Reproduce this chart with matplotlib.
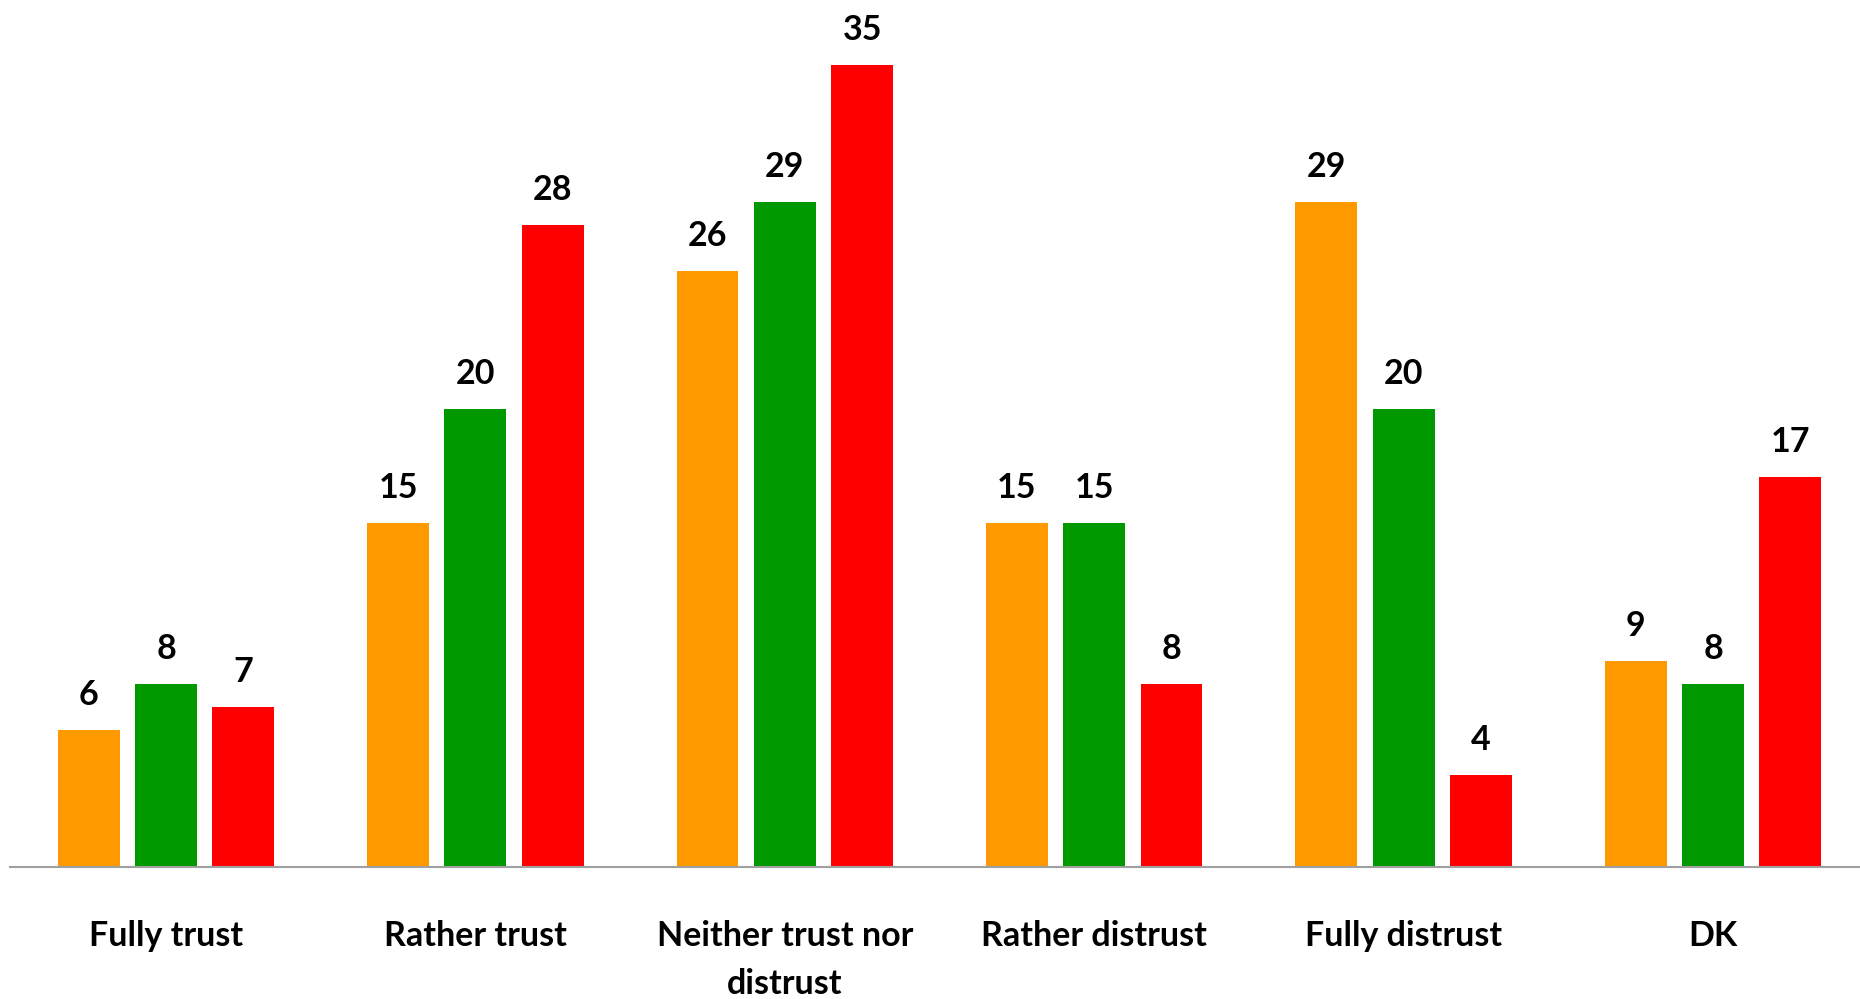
import matplotlib
matplotlib.use("Agg")
import matplotlib.pyplot as plt
import matplotlib.transforms as mtransforms
import numpy as np

categories = ["Fully trust", "Rather trust", "Neither trust nor\ndistrust",
              "Rather distrust", "Fully distrust", "DK"]
series_orange = [6, 15, 26, 15, 29, 9]
series_green = [8, 20, 29, 15, 20, 8]
series_red = [7, 28, 35, 8, 4, 17]
colors = ["#FF9900", "#009900", "#FF0000"]

FONT = "Lato"
FS = 24.5
W, H = 1860, 999
fig = plt.figure(figsize=(W / 100, H / 100), dpi=100)
base_px = 867
ax = fig.add_axes([10.5 / W, 1 - base_px / H, 1 - 10.5 / W, base_px / H])

group_px = 309.4
c0 = 166
x = np.arange(len(categories))
width = 0.2
step = 0.25
series = [series_orange, series_green, series_red]
for i, (vals, col) in enumerate(zip(series, colors)):
    pos = x + (i - 1) * step
    bars = ax.bar(pos, vals, width=width, color=col, zorder=2)
    for b, v in zip(bars, vals):
        ax.annotate(str(v), (b.get_x() + b.get_width() / 2, v),
                    xytext=(0, 18), textcoords="offset points",
                    ha="center", va="baseline", fontsize=FS,
                    fontweight="bold", family=FONT, color="black")

ax.set_xlim(-(c0 - 10.5) / group_px, -(c0 - 10.5) / group_px + (W - 10.5) / group_px)
ax.set_ylim(0, base_px / (802 / 35))
for s in ["top", "right", "left"]:
    ax.spines[s].set_visible(False)
ax.spines["bottom"].set_color("#A0A0A0")
ax.spines["bottom"].set_linewidth(1.5)
ax.set_yticks([])
ax.set_xticks([])

trans = mtransforms.blended_transform_factory(ax.transData, fig.transFigure)
for xi, cat in zip(x, categories):
    lines = cat.split("\n")
    for k, line in enumerate(lines):
        ax.text(xi, 1 - (946 + 48 * k) / H, line, transform=trans,
                ha="center", va="baseline", fontsize=FS,
                fontweight="bold", family=FONT)

fig.savefig("out.png", dpi=100)
